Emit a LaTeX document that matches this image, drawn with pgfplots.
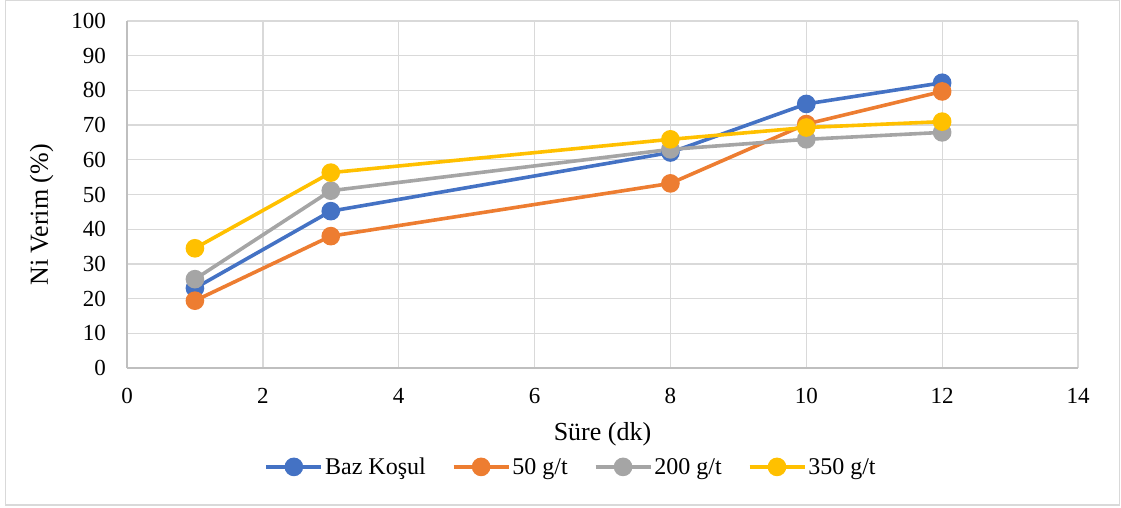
\documentclass[border=0pt]{standalone}
\usepackage{fontspec}
\setmainfont{Liberation Serif}
\usepackage{pgfplots}
\pgfplotsset{compat=1.18}

\definecolor{cBlue}{HTML}{4472C4}
\definecolor{cOrange}{HTML}{ED7D31}
\definecolor{cGrey}{HTML}{A5A5A5}
\definecolor{cYellow}{HTML}{FFC000}
\definecolor{gridGrey}{HTML}{D9D9D9}
\definecolor{axisGrey}{HTML}{BFBFBF}

\begin{document}
\begin{tikzpicture}
\useasboundingbox (0,0) rectangle (1121bp,508bp);
% chart frame
\draw[draw=gridGrey, line width=1.2bp] (5.5bp,3bp) rectangle (1119.5bp,507.5bp);

\begin{axis}[
  at={(127bp,140bp)}, anchor=south west,
  scale only axis, width=951bp, height=347bp,
  xmin=0, xmax=14, ymin=0, ymax=100,
  xtick={0,2,...,14}, ytick={0,10,...,100},
  axis x line*=bottom, axis y line*=left,
  axis line style={draw=axisGrey, line width=1.3bp, -},
  major tick length=0pt,
  grid=major,
  major grid style={draw=gridGrey, line width=1.3bp},
  /pgf/number format/assume math mode=true,
  ticklabel style={font=\fontsize{23bp}{27bp}\selectfont, inner sep=0pt},
  yticklabel style={anchor=east, xshift=-21bp},
  xticklabel style={anchor=north, yshift=-20bp},
  label style={font=\fontsize{26bp}{30bp}\selectfont},
  xlabel={Süre (dk)},
  ylabel={Ni Verim (\%)},
  xlabel style={at={(axis description cs:0.5,-0.19)}, anchor=center},
  ylabel style={at={(axis description cs:-0.0899,0.441)}, anchor=center},
  legend columns=4,
  legend style={
    at={(axis description cs:0.467,-0.285)}, anchor=center,
    draw=none, fill=none,
    font=\fontsize{24bp}{28bp}\selectfont,
    nodes={inner sep=2bp},
    /tikz/every even column/.append style={column sep=24bp},
  },
  legend image code/.code={%
    \draw[mark repeat=2,mark phase=2]
      plot coordinates {(0bp,0bp) (27.5bp,0bp) (55bp,0bp)};},
  every axis plot/.append style={line width=3.6bp, mark=*, mark size=7.5bp,
    mark options={solid}},
]
\addplot[color=cBlue, mark options={fill=cBlue, draw=cBlue}] coordinates {
  (1,23.0) (3,45.2) (8,62.1) (10,76.1) (12,82.2)};
\addlegendentry{Baz Koşul}
\addplot[color=cOrange, mark options={fill=cOrange, draw=cOrange}] coordinates {
  (1,19.4) (3,38.0) (8,53.2) (10,70.3) (12,79.7)};
\addlegendentry{50 g/t}
\addplot[color=cGrey, mark options={fill=cGrey, draw=cGrey}] coordinates {
  (1,25.6) (3,51.1) (8,63.0) (10,65.9) (12,67.9)};
\addlegendentry{200 g/t}
\addplot[color=cYellow, mark options={fill=cYellow, draw=cYellow}] coordinates {
  (1,34.5) (3,56.3) (8,65.9) (10,69.3) (12,71.0)};
\addlegendentry{350 g/t}
\end{axis}
\end{tikzpicture}
\end{document}
